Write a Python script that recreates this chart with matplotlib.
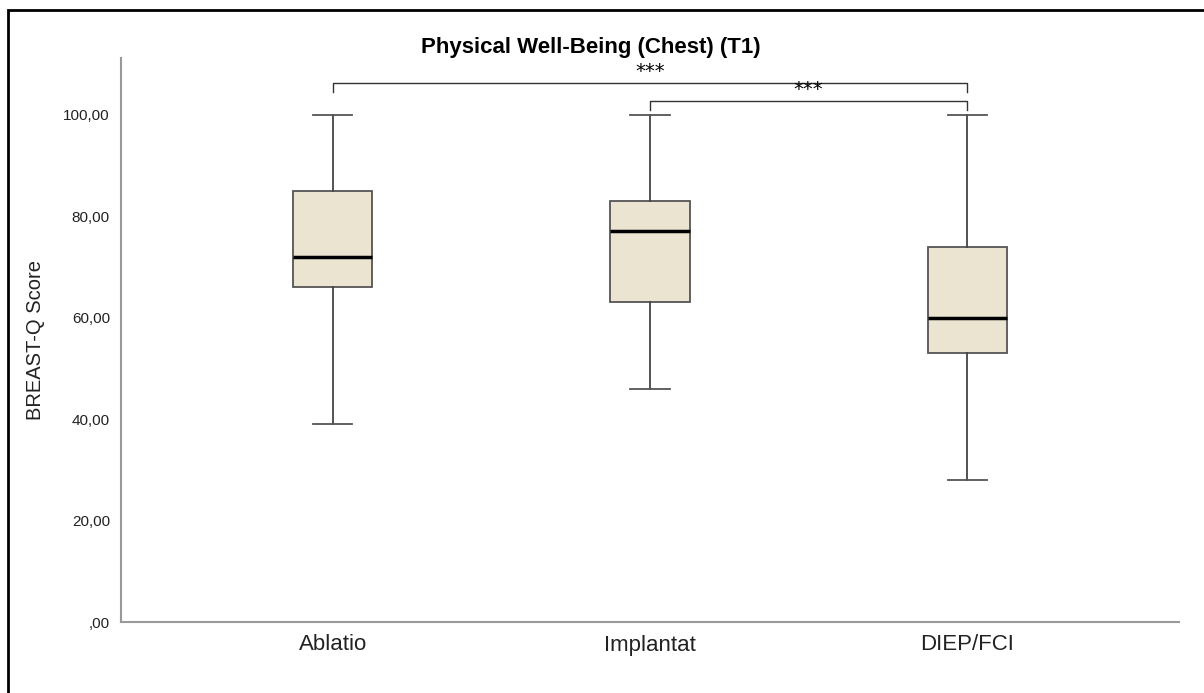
import matplotlib.pyplot as plt
from matplotlib.patches import Rectangle

plt.rcParams['font.family'] = ['Liberation Sans', 'DejaVu Sans']

# Werte
groups = ['Ablatio', 'Implantat', 'DIEP/FCI']
whisker_low = [39, 46, 28]
q1 = [66, 63, 53]
median = [72, 77, 60]
q3 = [85, 83, 74]
whisker_high = [100, 100, 100]

yticks = [0, 20, 40, 60, 80, 100]
ytick_labels = [',00', '20,00', '40,00', '60,00', '80,00', '100,00']

# Signifikanz-Klammern: (von, bis, Höhe, Text)
brackets = [(0, 2, 106.3, '***'), (1, 2, 102.8, '***')]

stats = []
for i, g in enumerate(groups):
    stats.append({'label': g, 'whislo': whisker_low[i], 'q1': q1[i], 'med': median[i],
                  'q3': q3[i], 'whishi': whisker_high[i], 'fliers': []})

fig = plt.figure(figsize=(12.04, 6.93), dpi=100)
ax = fig.add_axes([121 / 1204, 71 / 693, (1179 - 121) / 1204, (622 - 58) / 693])

ax.bxp(stats, positions=range(len(groups)), widths=0.25, patch_artist=True,
       showfliers=False,
       boxprops=dict(facecolor='#EAE4D0', edgecolor='#555555', linewidth=1.3),
       medianprops=dict(color='black', linewidth=2.5),
       whiskerprops=dict(color='#444444', linewidth=1.3),
       capprops=dict(color='#555555', linewidth=1.3),
       capwidths=0.125)

ax.set_xlim(-0.667, 2.667)
ax.set_ylim(0, 111.2)
ax.set_yticks(yticks)
ax.set_yticklabels(ytick_labels, fontsize=11, color='#222222')
ax.set_xticks(range(len(groups)))
ax.set_xticklabels(groups, fontsize=16, color='#222222')
ax.tick_params(axis='both', length=0)
ax.tick_params(axis='y', pad=8)
ax.tick_params(axis='x', pad=9)

for s in ['top', 'right']:
    ax.spines[s].set_visible(False)
for s in ['left', 'bottom']:
    ax.spines[s].set_color('#999999')
    ax.spines[s].set_linewidth(1.5)

ax.set_ylabel('BREAST-Q Score', fontsize=14.5, color='#222222', labelpad=13)

for x0, x1, h, txt in brackets:
    ax.plot([x0, x0, x1, x1], [h - 1.8, h, h, h - 1.8], color='#333333', lw=1, clip_on=False)
    ax.text((x0 + x1) / 2, h + 0.3, txt, ha='center', va='bottom', fontsize=14,
            family='DejaVu Sans', clip_on=False)

fig.text(591 / 1204, 1 - 47 / 693, 'Physical Well-Being (Chest) (T1)', ha='center', va='center',
         fontsize=16, fontweight='bold')

# Rahmen um die Grafik
fig.patches.append(Rectangle((8 / 1204, -0.1), 1.2, 1.1 - 10 / 693, transform=fig.transFigure,
                             fill=False, edgecolor='black', linewidth=2))

fig.savefig('out.png', dpi=100)
